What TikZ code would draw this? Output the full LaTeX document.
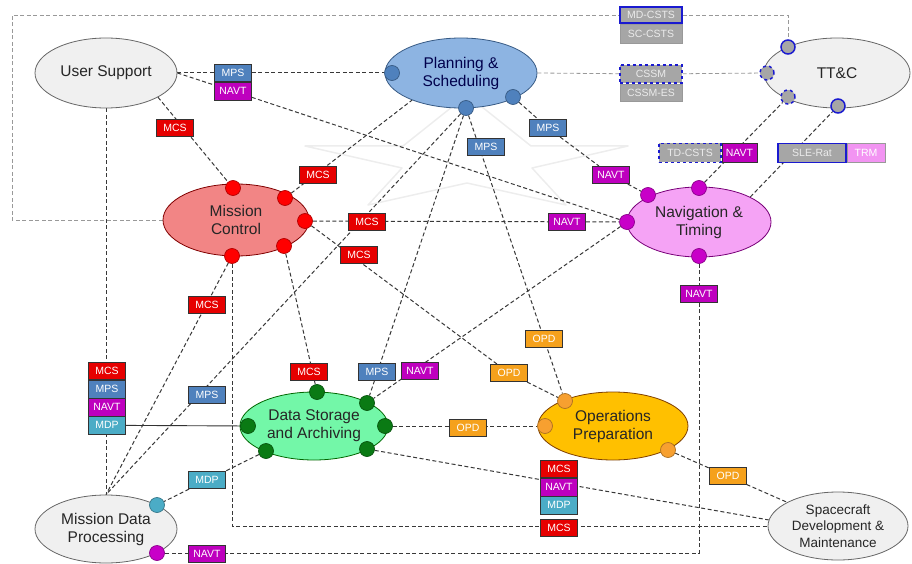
\documentclass[tikz,border=0pt]{standalone}
\usepackage{fontspec}
\setmainfont{Liberation Sans}
\usepackage{xcolor}
\usepackage{tikz}
\usetikzlibrary{shapes,positioning,calc}
\pgfdeclarelayer{bg}
\pgfsetlayers{bg,main}

\definecolor{mcsred}{HTML}{E60000}
\definecolor{mpsblue}{HTML}{4F81BD}
\definecolor{navtmag}{HTML}{BE00BE}
\definecolor{mdpteal}{HTML}{4BACC6}
\definecolor{opdorange}{HTML}{F5A11C}
\definecolor{trmpink}{HTML}{F294F2}
\definecolor{taggrey}{HTML}{A6A6A6}
\definecolor{ttblue}{HTML}{1A1AD0}
\definecolor{sysgrey}{HTML}{F0F0F0}
\definecolor{planfill}{HTML}{8DB4E2}
\definecolor{mcfill}{HTML}{F28585}
\definecolor{navfill}{HTML}{F5A3F5}
\definecolor{dsafill}{HTML}{73F7A8}
\definecolor{opsfill}{HTML}{FFC000}
\definecolor{dsaport}{HTML}{0A7A14}
\definecolor{opsport}{HTML}{F7A030}
\definecolor{navport}{HTML}{C800C8}
\definecolor{mcport}{HTML}{FF0000}

\begin{document}
\begin{tikzpicture}[x=1pt,y=-1pt,
    sys/.style={ellipse,draw=#1,line width=0.8pt,inner sep=0pt,align=center,
        text=black!85,font=\fontsize{15.5}{18}\selectfont},
    port/.style={circle,draw=#1!70!black,fill=#1,line width=0.7pt,minimum size=15pt,inner sep=0pt},
    ttport/.style={circle,draw=ttblue,fill=taggrey,line width=1.5pt,minimum size=14pt,inner sep=0pt},
    tag/.style={draw=black!80,fill=#1,text=white,line width=0.6pt,minimum width=37pt,
        minimum height=17.5pt,inner sep=0pt,font=\fontsize{10.5}{12}\selectfont},
    gtag/.style={tag=taggrey,draw=black!40,minimum width=62pt,text=white!92!black},
    link/.style={draw=black!78,line width=1pt,dash pattern=on 4pt off 2.5pt},
    glink/.style={draw=black!40,line width=0.8pt,dash pattern=on 4pt off 2.5pt}]
\useasboundingbox (0,0) rectangle (912,564);

\node[sys=black!60,fill=sysgrey,minimum width=142pt,minimum height=70pt] (us) at (106,73) {User Support};
\node[sys=mpsblue!70!black,fill=planfill,minimum width=152pt,minimum height=70pt,text=blue!30!black] (plan) at (461,73) {Planning \&\\Scheduling};
\node[sys=black!60,fill=sysgrey,minimum width=146pt,minimum height=70pt] (ttc) at (837,73) {TT\&C};
\node[sys=red!50!black,fill=mcfill,minimum width=146pt,minimum height=72pt] (mc) at (236,220) {Mission\\Control};
\node[sys=navport!60!black,fill=navfill,minimum width=144pt,minimum height=70pt] (nav) at (699,222) {Navigation \&\\Timing};
\node[sys=green!40!black,fill=dsafill,minimum width=148pt,minimum height=68pt] (dsa) at (314,426) {Data Storage\\and Archiving};
\node[sys=orange!50!black,fill=opsfill,minimum width=150pt,minimum height=68pt] (ops) at (613,426) {Operations\\Preparation};
\node[sys=black!60,fill=sysgrey,minimum width=142pt,minimum height=68pt] (mdp) at (106,529) {Mission Data\\Processing};
\node[sys=black!60,fill=sysgrey,minimum width=140pt,minimum height=68pt,font=\fontsize{13.5}{16.5}\selectfont] (sc) at (838,526) {Spacecraft\\Development \&\\Maintenance};

\node[port=mpsblue] (pp1) at (392,73) {};
\node[port=mpsblue] (pp2) at (466,108) {};
\node[port=mpsblue] (pp3) at (513,97) {};
\node[ttport] (ttp1) at (788,47) {};
\node[ttport,dashed] (ttp2) at (767,73) {};
\node[ttport,dashed] (ttp3) at (788,97) {};
\node[ttport] (ttp4) at (838,106) {};
\node[port=mcport] (mcp1) at (233,188) {};
\node[port=mcport] (mcp2) at (285,198) {};
\node[port=mcport] (mcp3) at (305,221) {};
\node[port=mcport] (mcp4) at (284,246) {};
\node[port=mcport] (mcp5) at (232,256) {};
\node[port=navport] (np1) at (648,195) {};
\node[port=navport] (np2) at (699,188) {};
\node[port=navport] (np3) at (627,222) {};
\node[port=navport] (np4) at (699,256) {};
\node[port=dsaport] (dp1) at (317,392) {};
\node[port=dsaport] (dp2) at (367,403) {};
\node[port=dsaport] (dp3) at (385,426) {};
\node[port=dsaport] (dp4) at (367,449) {};
\node[port=dsaport] (dp5) at (248,426) {};
\node[port=dsaport] (dp6) at (266,451) {};
\node[port=opsport] (opp1) at (565,401) {};
\node[port=opsport] (opp2) at (545,426) {};
\node[port=opsport] (opp3) at (668,450) {};
\node[port=mdpteal] (mdpp1) at (157,505) {};
\node[port=navport] (mdpp2) at (157,553) {};

\node[gtag,draw=ttblue,line width=1.4pt,minimum height=16pt] (mdc) at (651,15) {MD-CSTS};
\node[gtag,below=0pt of mdc,minimum height=19pt] (scc) {SC-CSTS};
\node[gtag,draw=ttblue,dashed,line width=1.4pt,minimum height=18pt] (cssm) at (651,74) {CSSM};
\node[gtag,below=0pt of cssm] (cssmes) {CSSM-ES};
\node[gtag,draw=ttblue,dashed,line width=1.4pt,minimum height=19pt] (tdc) at (690,153) {TD-CSTS};
\node[tag=navtmag,right=0pt of tdc,minimum width=35pt,minimum height=19pt] (ltn) {NAVT};
\node[gtag,draw=ttblue,line width=1.4pt,minimum width=68pt,minimum height=19pt] (sle) at (812,153) {SLE-Rat};
\node[tag=trmpink,draw=black!40,right=0pt of sle,minimum width=38pt,minimum height=19pt] (trm) {TRM};

\node[tag=mpsblue] (lmps1) at (233,73) {MPS};
\node[tag=navtmag,below=0pt of lmps1] (lnavt1) {NAVT};
\node[tag=mcsred] (lmcs1) at (175,128) {MCS};
\node[tag=mcsred] (lmcs2) at (318,175) {MCS};
\node[tag=mpsblue] (lmps3) at (486,147) {MPS};
\node[tag=mpsblue] (lmps5) at (548,128) {MPS};
\node[tag=navtmag] (lnavt2) at (611,175) {NAVT};
\node[tag=mcsred] (lmcs3) at (367,222) {MCS};
\node[tag=navtmag] (lnavt3) at (567,222) {NAVT};
\node[tag=mcsred] (lmcs4) at (359,255) {MCS};
\node[tag=navtmag] (lnavt5) at (699,294) {NAVT};
\node[tag=mcsred] (lmcs6) at (207,305) {MCS};
\node[tag=opdorange] (lopd1) at (544,339) {OPD};
\node[tag=mcsred] (lmcs5) at (309,372) {MCS};
\node[tag=mpsblue] (lmps4) at (377,372) {MPS};
\node[tag=navtmag] (lnavt4) at (420,371) {NAVT};
\node[tag=opdorange] (lopd2) at (509,373) {OPD};
\node[tag=mpsblue] (lmps2) at (207,395) {MPS};
\node[tag=opdorange] (lopd3) at (468,428) {OPD};
\node[tag=mdpteal] (lmdp1) at (207,480) {MDP};
\node[tag=opdorange] (lopd4) at (728,476) {OPD};
\node[tag=mcsred] (lmcs7) at (559,528) {MCS};
\node[tag=navtmag] (lnavt6) at (207,554) {NAVT};

\node[tag=mcsred] (s1) at (107,371) {MCS};
\node[tag=mpsblue,below=0pt of s1] (s2) {MPS};
\node[tag=navtmag,below=0pt of s2] (s3) {NAVT};
\node[tag=mdpteal,below=0pt of s3] (s4) {MDP};
\node[tag=mcsred] (t1) at (559,469) {MCS};
\node[tag=navtmag,below=0pt of t1] (t2) {NAVT};
\node[tag=mdpteal,below=0pt of t2] (t3) {MDP};

\coordinate (c1) at (12,15);

\begin{pgfonlayer}{bg}
\draw[black!7,line width=1.5pt,line join=round] (467,95) -- (531,146) -- (628,146) -- (532,168) -- (566,205) -- (467,183) -- (368,205) -- (402,168) -- (305,146) -- (403,146) -- cycle;
\draw[glink] (mc.west) -| (c1) -- (mdc) -- (ttp1 |- c1) -- (ttp1);
\draw[glink] (plan.east) -- (cssm) -- (ttp2);
\draw[link] (us.east) -- (lmps1) -- (pp1);
\draw[link] (us.east) -- (lnavt1) -- (np3);
\draw[link] (us.335) -- (mcp1);
\draw[link] (us.south) -- (mdp.north);
\draw[black!80,line width=0.9pt] (s4) -- (dp5);
\draw[link] (mcp2) -- (plan.209);
\draw[link] (mcp3) -- (np3);
\draw[link] (mcp3) -- (lopd2) -- (opp1);
\draw[link] (mcp4) -- (dp1);
\draw[link] (mcp5) -- (mdp.north);
\draw[link] (mcp5) |- (sc.west);
\draw[link] (pp2) -- (opp1);
\draw[link] (pp2) -- (dp2);
\draw[link] (pp2) -- (mdp.north);
\draw[link] (pp3) -- (lmps5) -- (lnavt2) -- (np1);
\draw[link] (np2) -- (ttp3);
\draw[link] (nav.26) -- (ttp4);
\draw[link] (np3) -- (dp2);
\draw[link] (np4) |- (mdpp2);
\draw[link] (dp3) -- (opp2);
\draw[link] (dp4) -- (sc.175);
\draw[link] (dp6) -- (mdpp1);
\draw[link] (opp3) -- (sc.155);
\end{pgfonlayer}
\end{tikzpicture}
\end{document}
